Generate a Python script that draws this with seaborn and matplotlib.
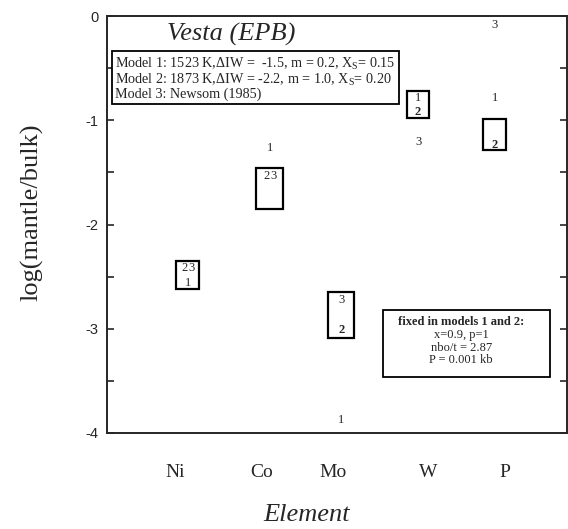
import numpy as np
import pandas as pd
import seaborn as sns
import matplotlib.pyplot as plt

# values
elements = ["Ni", "Co", "Mo", "W", "P"]
elem_x = [1.0, 2.07, 3.0, 4.0, 5.0]          # x of each element's box
label_x = [0.84, 1.96, 2.89, 4.13, 5.13]     # x of the element tick labels
model1 = [-2.56, -1.27, -3.88, -0.79, -0.79]
model2 = [-2.42, -1.53, -3.01, -0.92, -1.24]
model3 = [-2.42, -1.53, -2.72, -1.21, -0.09]
box_top = [-2.35, -1.46, -2.65, -0.72, -0.99]
box_bottom = [-2.62, -1.85, -3.09, -0.98, -1.29]
box_width = [0.30, 0.35, 0.34, 0.29, 0.30]

fixed_lines = ["fixed in models 1 and 2:", "x=0.9, p=1", "nbo/t = 2.87", "P = 0.001 kb"]

df = pd.DataFrame({"element": elements, "x": elem_x, "m1": model1, "m2": model2,
                   "m3": model3, "top": box_top, "bottom": box_bottom, "w": box_width})

sns.set_style("ticks")
plt.rcParams["font.family"] = ["Liberation Serif", "DejaVu Serif"]
plt.rcParams["mathtext.fontset"] = "custom"
plt.rcParams["mathtext.rm"] = "Liberation Serif"

fig = plt.figure(figsize=(5.68, 5.29), dpi=100)
ax = fig.add_axes([107 / 568, 1 - 433 / 529, 460 / 568, 417 / 529])

# boxes (range of models)
ax.bar(df["x"], df["top"] - df["bottom"], bottom=df["bottom"], width=df["w"],
       fill=False, edgecolor="black", linewidth=1.6)

# model labels
fs = 9
for _, r in df.iterrows():
    if abs(r["m2"] - r["m3"]) < 0.01:
        ax.text(r["x"] - 0.045, r["m2"], "2", ha="center", va="center", fontsize=fs)
        ax.text(r["x"] + 0.045, r["m3"], "3", ha="center", va="center", fontsize=fs)
    else:
        ax.text(r["x"], r["m2"], "2", ha="center", va="center", fontsize=fs,
                fontweight="bold")
        ax.text(r["x"], r["m3"], "3", ha="center", va="center", fontsize=fs)
    ax.text(r["x"], r["m1"], "1", ha="center", va="center", fontsize=fs)

ax.set_xlim(-0.05, 5.94)
ax.set_ylim(-4, 0)
ax.set_xticks(label_x)
ax.set_xticklabels(elements, fontsize=14)
ax.tick_params(axis="x", length=0, pad=22)
ax.set_yticks([0, -1, -2, -3, -4])
ax.set_yticks(np.arange(-3.5, 0, 1.0), minor=True)
ax.set_yticklabels(["0", "-1", "-2", "-3", "-4"], fontsize=10.5,
                   family="Liberation Sans")
ax.tick_params(axis="y", which="both", direction="in", right=True, length=5,
               width=1.2, pad=6)
for s in ax.spines.values():
    s.set_linewidth(1.4)

ax.set_xlabel("Element", fontsize=19, style="italic", va="center")
ax.xaxis.set_label_coords(0.435, -0.197)
ax.set_ylabel("log(mantle/bulk)", fontsize=19, va="center")
ax.yaxis.set_label_coords(-0.163, 0.53)

ax.text(0.27, 0.955, "Vesta (EPB)", transform=ax.transAxes, fontsize=19,
        style="italic", ha="center", va="center")

models_txt = ("Model 1: 1523 K,ΔIW =  -1.5, m = 0.2, X$_\\mathrm{S}$= 0.15\n"
              "Model 2: 1873 K,ΔIW = -2.2, m = 1.0, X$_\\mathrm{S}$= 0.20\n"
              "Model 3: Newsom (1985)")
ax.text(0.018, 0.905, models_txt, transform=ax.transAxes, fontsize=10.2,
        ha="left", va="top", linespacing=0.95,
        bbox=dict(boxstyle="square,pad=0.25", fc="white", ec="black", lw=1.3))

# fixed-parameter box
line_y = [0.266, 0.234, 0.204, 0.174]
for i, (txt, yy) in enumerate(zip(fixed_lines, line_y)):
    ax.text(0.77, yy, txt, transform=ax.transAxes, fontsize=9,
            fontweight="bold" if i == 0 else "normal", ha="center", va="center")
ax.add_patch(plt.Rectangle(((383 - 107) / 460, (433 - 377) / 417),
                           (550 - 383) / 460, (377 - 310) / 417,
                           transform=ax.transAxes, fill=False, ec="black", lw=1.3))

fig.savefig("out.png", dpi=100)
